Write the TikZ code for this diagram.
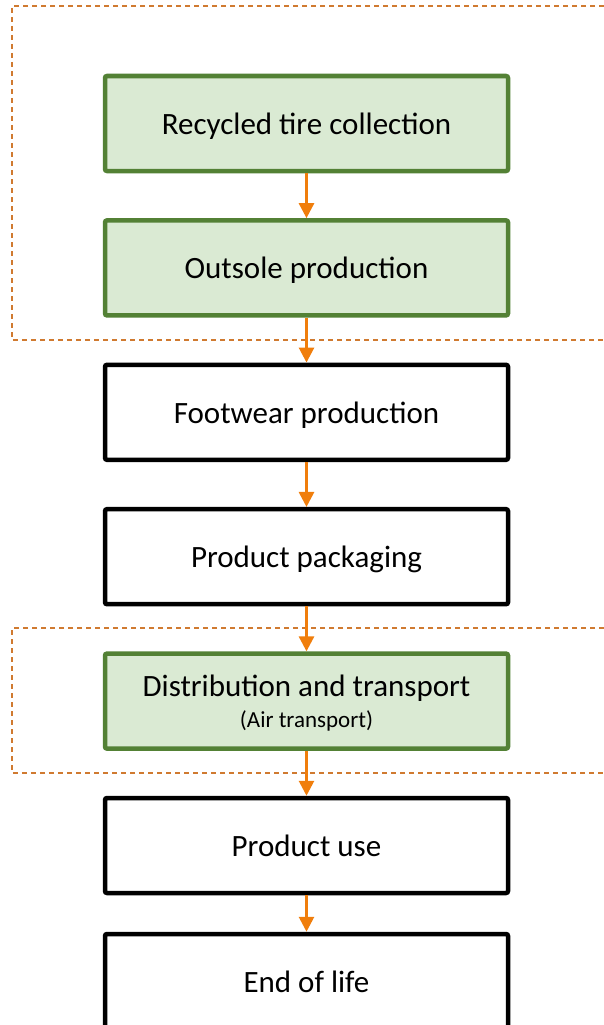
\documentclass[tikz,border=0pt]{standalone}
\usepackage{fontspec}
\setmainfont{Carlito}
\usetikzlibrary{positioning,arrows.meta}
\definecolor{boxgreen}{HTML}{538135}
\definecolor{fillgreen}{HTML}{DAEAD3}
\definecolor{arroworange}{HTML}{F07E0C}
\definecolor{dashorange}{HTML}{D07A30}
\tikzset{
  stagebox/.style={draw=black,line width=4.5pt,rounded corners=2pt,minimum width=403pt,minimum height=95pt,inner sep=0pt,text depth=0pt,font=\fontsize{31}{34}\selectfont,align=center},
  greenbox/.style={stagebox,draw=boxgreen,fill=fillgreen},
  flow/.style={draw=arroworange,line width=2.8pt,-{Triangle[width=15pt,length=15pt]}},
  scopeline/.style={draw=dashorange,line width=1.2pt,dash pattern=on 5pt off 4pt}
}
\begin{document}
\begin{tikzpicture}[x=1pt,y=1pt]
        \useasboundingbox (0,0) rectangle (603,-1025);
        \node[greenbox] (collect) at (306.5,-123.5) {Recycled tire collection};
        \node[greenbox,below=44.9pt of collect] (outsole) {Outsole production};
        \node[stagebox,below=44.9pt of outsole] (footwear) {Footwear production};
        \node[stagebox,below=44.9pt of footwear] (packaging) {Product packaging};
        \node[greenbox,below=44.9pt of packaging] (transport) {Distribution and transport\\[-3pt]{\fontsize{23}{26}\selectfont (Air transport)}};
        \node[stagebox,below=44.9pt of transport] (use) {Product use};
        \node[stagebox,below=36.5pt of use] (eol) {End of life};
        % system boundaries
        \draw[scopeline] (640,-6) -- (12,-6) -- (12,-340) -- (640,-340);
        \draw[scopeline] (640,-628) -- (12,-628) -- (12,-773) -- (640,-773);
        \draw[flow] (collect) -- (outsole);
        \draw[flow] (outsole) -- (footwear);
        \draw[flow] (footwear) -- (packaging);
        \draw[flow] (packaging) -- (transport);
        \draw[flow] (transport) -- (use);
        \draw[flow] (use) -- (eol);
    \end{tikzpicture}
\end{document}
